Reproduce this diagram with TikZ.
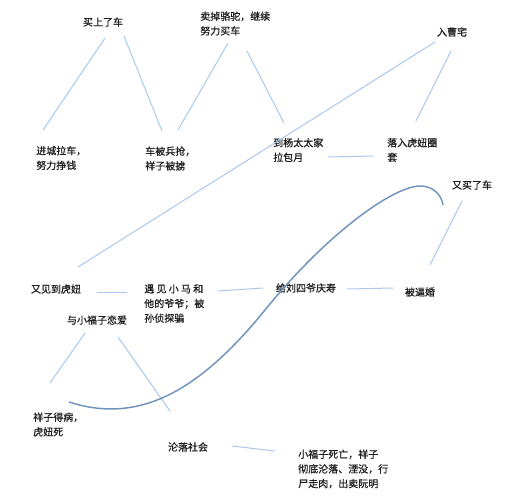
\documentclass[tikz,border=0pt]{standalone}
\usepackage{fontspec}
\setmainfont{Noto Sans CJK SC}[FakeBold=0.8]
\definecolor{linkblue}{HTML}{A9C8EC}
\definecolor{arcblue}{HTML}{6F93BD}
\definecolor{textgray}{HTML}{1E1E1E}
\tikzset{
  event/.style={inner sep=0pt, text=textgray, font=\fontsize{7.5}{11}\selectfont, align=left},
  link/.style={draw=linkblue, line width=0.75pt},
  plotline/.style={draw=arcblue, line width=1.1pt}
}
\begin{document}
\begin{tikzpicture}[x=0.75pt, y=-0.75pt]
\useasboundingbox (0,0) rectangle (510,500);
\node[event] (buy) at (103,22) {买上了车};
\node[event, anchor=west] (sell) at (200,23.5) {卖掉骆驼，继续\\努力买车};
\node[event] (cao) at (452,32) {入曹宅};
\node[event, anchor=west] (city) at (36,158) {进城拉车，\\努力挣钱};
\node[event, anchor=west] (robbed) at (145,158.5) {车被兵抢，\\祥子被掳};
\node[event, anchor=west] (yang) at (273,150) {到杨太太家\\拉包月};
\node[event, anchor=west] (trap) at (387,150) {落入虎妞圈\\套};
\node[event] (again) at (472,185) {又买了车};
\node[event] (meet) at (56,289) {又见到虎妞};
\node[event, anchor=west] (xiaoma) at (144,303.5) {遇 见 小 马 和\\他的爷爷；被\\孙侦探骗};
\node[event] (love) at (97,320) {与小福子恋爱};
\node[event] (liu) at (306,288) {给刘四爷庆寿};
\node[event] (forced) at (420,292) {被逼婚};
\node[event, anchor=west] (ill) at (33,424.5) {祥子得病，\\虎妞死};
\node[event] (fall) at (188,447) {沦落社会};
\node[event, anchor=west] (death) at (298,469) {小福子死亡，祥子\\彻底沦落、湮没，行\\尸走肉，出卖阮明};

\path [link] ([shift={(2,16)}]buy.center) edge ([shift={(7,-28)}]city.west);
\path [link] ([shift={(21,14)}]buy.center) edge ([shift={(17,-27.5)}]robbed.west);
\path [link] ([shift={(28,19.5)}]sell.west) edge ([shift={(33,-28.5)}]robbed.west);
\path [link] ([shift={(47,27.5)}]sell.west) edge ([shift={(11,-27)}]yang.west);
\path [link] ([shift={(-17,10)}]cao.center) edge ([shift={(22,-22)}]meet.center);
\path [link] ([shift={(-1,19)}]cao.center) edge ([shift={(29,-29)}]trap.west);
\path [link] ([shift={(55,7)}]yang.west) edge ([shift={(-14,6)}]trap.west);
\path [link] ([shift={(41,3)}]meet.center) edge ([shift={(-17,-11.5)}]xiaoma.west);
\path [link] ([shift={(74,-12.5)}]xiaoma.west) edge ([shift={(-43,0)}]liu.center);
\path [link] ([shift={(41,1)}]liu.center) edge ([shift={(-27,-4)}]forced.center);
\path [link] ([shift={(-10,16)}]again.center) edge ([shift={(10,-27)}]forced.center);
\path [link] ([shift={(-12,13)}]love.center) edge ([shift={(17,-41.5)}]ill.west);
\path [link] ([shift={(21,17)}]love.center) edge ([shift={(-18,-36)}]fall.center);
\path [link] ([shift={(44,-1)}]fall.center) edge ([shift={(-23,-18)}]death.west);

% rise and fall of the story
\draw [plotline] (69,402) .. controls (140,425) and (200,390) .. (265,310)
  .. controls (330,230) and (395,186) .. (420,186)
  .. controls (435,186) and (442,197) .. (443,205);
\end{tikzpicture}
\end{document}
